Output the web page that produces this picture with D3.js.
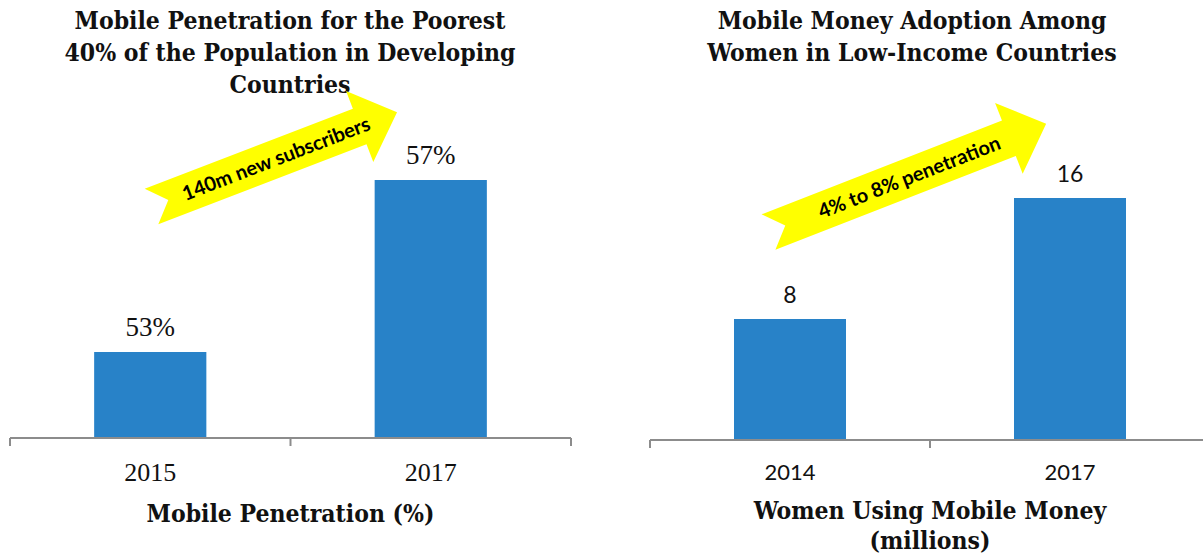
<!DOCTYPE html>
<html>
<head>
<meta charset="utf-8">
<script src="https://cdn.jsdelivr.net/npm/d3@7"></script>
<style>
  body { margin: 0; background: #fff; }
  .title, .axis-title { font-family: "DejaVu Serif Condensed", "DejaVu Serif", serif; font-weight: bold; fill: #111; }
  .serif-label { font-family: "Liberation Serif", serif; fill: #111; }
  .sans-label { font-family: "Lato", "Open Sans", sans-serif; fill: #111; }
  .arrow-text { font-family: "Lato", "Open Sans", sans-serif; font-weight: bold; fill: #000; }
</style>
</head>
<body>
<div id="chart"></div>
<script>
// Left panel data
var leftYears = ["2015", "2017"];
var leftValues = [53, 57];
var leftLabels = ["53%", "57%"];
var leftTitle = ["Mobile Penetration for the Poorest", "40% of the Population in Developing", "Countries"];
var leftAxisTitle = ["Mobile Penetration (%)"];
var leftArrowText = "140m new subscribers";

// Right panel data
var rightYears = ["2014", "2017"];
var rightValues = [8, 16];
var rightLabels = ["8", "16"];
var rightTitle = ["Mobile Money Adoption Among", "Women in Low-Income Countries"];
var rightAxisTitle = ["Women Using Mobile Money", "(millions)"];
var rightArrowText = "4% to 8% penetration";

var W = 1203, H = 559;
var barColor = "#2882c8";
var axisColor = "#8c8c8c";

var svg = d3.select("#chart").append("svg")
  .attr("width", W)
  .attr("height", H);

function drawPanel(opts){
  var g = svg.append("g");

  var x = d3.scaleBand()
    .domain(opts.years)
    .range(opts.xRange)
    .paddingInner(0)
    .paddingOuter(0);

  var y = d3.scaleLinear()
    .domain(opts.yDomain)
    .range([opts.baseY, opts.topY]);

  var barW = x.bandwidth() * 0.4;
  var cx = (opts.xRange[0] + opts.xRange[1]) / 2;

  // Title
  opts.title.forEach(function(line, i){
    g.append("text")
      .attr("class", "title")
      .attr("text-anchor", "middle")
      .attr("x", opts.titleX)
      .attr("y", 29 + i * 32)
      .style("font-size", "24.5px")
      .text(line);
  });

  // Bars
  g.selectAll(".bar")
    .data(opts.values)
    .enter().append("rect")
    .attr("class", "bar")
    .attr("x", function(d, i){ return x(opts.years[i]) + (x.bandwidth() - barW) / 2; })
    .attr("width", barW)
    .attr("y", function(d){ return y(d); })
    .attr("height", function(d){ return opts.baseY - y(d); })
    .style("fill", barColor);

  // Value labels
  g.selectAll(".value")
    .data(opts.values)
    .enter().append("text")
    .attr("class", opts.labelClass)
    .attr("text-anchor", "middle")
    .attr("x", function(d, i){ return x(opts.years[i]) + x.bandwidth() / 2; })
    .attr("y", function(d){ return y(d) - 16; })
    .style("font-size", opts.labelSize)
    .text(function(d, i){ return opts.labels[i]; });

  // X axis
  var axis = g.append("g")
    .attr("transform", "translate(0," + opts.baseY + ")")
    .call(d3.axisBottom(x).tickSize(0).tickFormat(""));
  axis.select(".domain").remove();
  axis.append("line")
    .attr("x1", opts.xRange[0]).attr("x2", Math.min(opts.xRange[1], W))
    .attr("stroke", axisColor).attr("stroke-width", 2);
  var edges = [opts.xRange[0]].concat(opts.years.map(function(d){ return x(d) + x.bandwidth(); }));
  axis.selectAll(".edge")
    .data(edges)
    .enter().append("line")
    .attr("x1", function(d){ return d; }).attr("x2", function(d){ return d; })
    .attr("y1", 0).attr("y2", 8)
    .attr("stroke", axisColor).attr("stroke-width", 2);

  g.selectAll(".year")
    .data(opts.years)
    .enter().append("text")
    .attr("class", opts.labelClass)
    .attr("text-anchor", "middle")
    .attr("x", function(d){ return x(d) + x.bandwidth() / 2; })
    .attr("y", opts.baseY + opts.tickDy)
    .style("font-size", opts.tickSize)
    .text(function(d){ return d; });

  opts.axisTitle.forEach(function(line, i){
    g.append("text")
      .attr("class", "axis-title")
      .attr("text-anchor", "middle")
      .attr("x", cx)
      .attr("y", opts.baseY + opts.axisTitleDy + i * 30)
      .style("font-size", "24.5px")
      .text(line);
  });

  // Yellow block arrow annotation
  var a = opts.arrow;
  var w = 19, h = 38, hl = 40, n = 18, L = a.length;
  var pts = [[0, -w], [L - hl, -w], [L - hl, -h], [L, 0], [L - hl, h], [L - hl, w], [0, w], [n, 0]];
  var ag = g.append("g")
    .attr("transform", "translate(" + a.x + "," + a.y + ")rotate(" + a.angle + ")");
  ag.append("path")
    .attr("d", d3.line()(pts) + "Z")
    .style("fill", "#ffff00");
  ag.append("text")
    .attr("class", "arrow-text")
    .attr("text-anchor", "middle")
    .attr("x", L / 2 + 2)
    .attr("y", 7)
    .style("font-size", "20px")
    .text(a.text);
}

drawPanel({
  years: leftYears, values: leftValues, labels: leftLabels,
  title: leftTitle, titleX: 290, axisTitle: leftAxisTitle,
  xRange: [10, 571], yDomain: [51, 57], baseY: 438, topY: 180,
  labelClass: "serif-label", labelSize: "27px", tickSize: "26px", tickDy: 43, axisTitleDy: 84,
  arrow: { x: 151.5, y: 206.5, angle: -21, length: 263, text: leftArrowText }
});

drawPanel({
  years: rightYears, values: rightValues, labels: rightLabels,
  title: rightTitle, titleX: 912, axisTitle: rightAxisTitle,
  xRange: [650, 1210], yDomain: [0, 16], baseY: 440, topY: 198,
  labelClass: "sans-label", labelSize: "23px", tickSize: "22px", tickDy: 40, axisTitleDy: 79,
  arrow: { x: 768.5, y: 232, angle: -21.3, length: 298, text: rightArrowText }
});
</script>
</body>
</html>
